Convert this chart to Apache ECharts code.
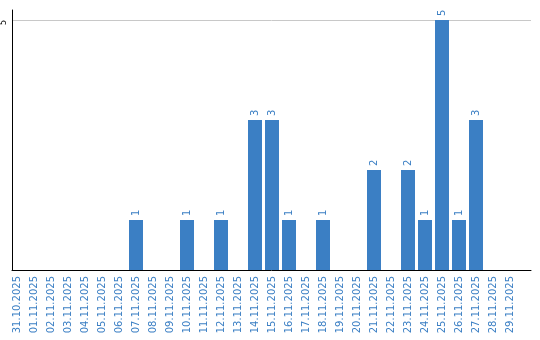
<!DOCTYPE html>
<html><head><meta charset="utf-8">
<script src="https://cdn.jsdelivr.net/npm/echarts@6/dist/echarts.min.js"></script>
<style>html,body{margin:0;padding:0;background:#fff}#c{width:540px;height:340px}</style>
</head><body><div id="c"></div>
<script>
const categories = ['31.10.2025','01.11.2025','02.11.2025','03.11.2025','04.11.2025','05.11.2025','06.11.2025','07.11.2025','08.11.2025','09.11.2025','10.11.2025','11.11.2025','12.11.2025','13.11.2025','14.11.2025','15.11.2025','16.11.2025','17.11.2025','18.11.2025','19.11.2025','20.11.2025','21.11.2025','22.11.2025','23.11.2025','24.11.2025','25.11.2025','26.11.2025','27.11.2025','28.11.2025','29.11.2025'];
const counts = [0,0,0,0,0,0,0,1,0,0,1,0,1,0,3,3,1,0,1,0,0,2,0,2,1,5,1,3,0,0];
const yTicks = [5];

const blue = '#3b7fc4';
const font = 'DejaVu Sans';
const chart = echarts.init(document.getElementById('c'));
chart.setOption({
  animation: false,
  grid: [
    {left: 11, right: 9, top: 10, bottom: 70},
    {left: 8.5, width: 510, top: 10, bottom: 70}
  ],
  xAxis: [
    {type: 'category', gridIndex: 0, data: categories, axisLine: {lineStyle: {color: '#000', width: 1}},
     axisTick: {show: false}, axisLabel: {show: false}},
    {type: 'category', gridIndex: 1, data: categories, axisLine: {show: false}, axisTick: {show: false},
     axisLabel: {rotate: 90, interval: 0, margin: 6, color: blue, fontFamily: font, fontSize: 10}}
  ],
  yAxis: [
    {type: 'value', gridIndex: 0, min: 0, max: 5.2, interval: 5,
     axisLine: {show: true, lineStyle: {color: '#000', width: 1}}, axisTick: {show: false},
     axisLabel: {rotate: 90, margin: 4, align: 'right', verticalAlign: 'bottom', color: '#000', fontFamily: font, fontSize: 8,
       formatter: v => yTicks.includes(v) ? String(v) : ''},
     splitLine: {show: true, lineStyle: {color: ['rgba(0,0,0,0)', '#c8c8c8', 'rgba(0,0,0,0)']}}},
    {type: 'value', gridIndex: 1, min: 0, max: 5.2, show: false}
  ],
  series: [{
    type: 'bar', xAxisIndex: 1, yAxisIndex: 1, data: counts, barWidth: 14,
    itemStyle: {color: blue},
    label: {show: true, position: 'top', rotate: 90, align: 'left', verticalAlign: 'middle', distance: 4,
      color: blue, fontFamily: font, fontSize: 10, formatter: p => p.value ? String(p.value) : ''}
  }]
});
</script></body></html>
